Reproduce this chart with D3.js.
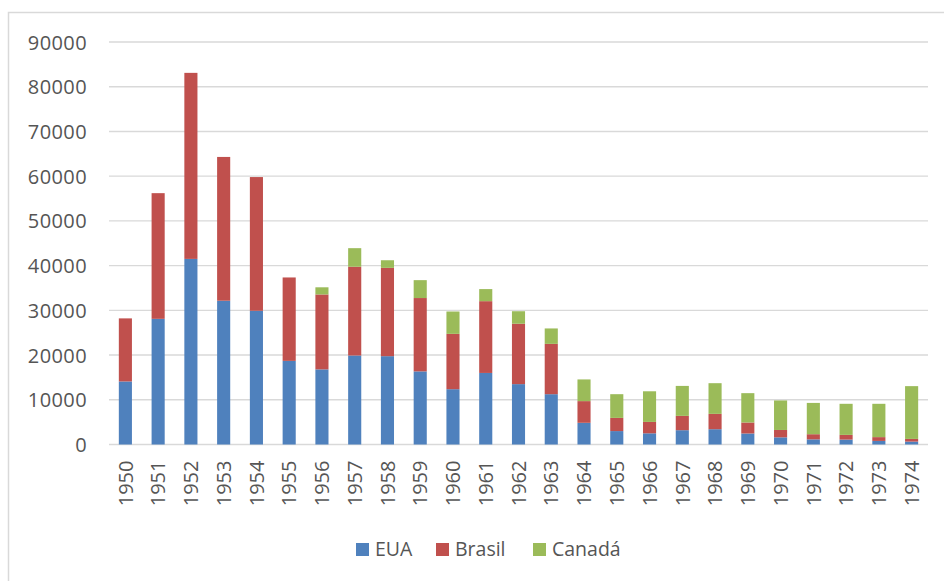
<!DOCTYPE html>
<html>
<head>
<meta charset="utf-8">
<script src="https://cdn.jsdelivr.net/npm/d3@7"></script>
<style>
  html, body { margin: 0; padding: 0; background: #fff; }
  svg { display: block; }
  text { font-family: "Open Sans", "Segoe UI", sans-serif; fill: #555555; }
</style>
</head>
<body>
<svg id="chart" width="944" height="581"></svg>
<script>
// Annual figures per country, 1950–1974
const years = ["1950","1951","1952","1953","1954","1955","1956","1957","1958","1959",
  "1960","1961","1962","1963","1964","1965","1966","1967","1968","1969",
  "1970","1971","1972","1973","1974"];
const eua = [14100, 28100, 41500, 32150, 29900, 18700, 16800, 19900, 19750, 16350,
  12370, 16000, 13500, 11250, 4850, 3000, 2500, 3200, 3420, 2460,
  1600, 1150, 1100, 800, 650];
const brasil = [14100, 28100, 41600, 32150, 29900, 18650, 16750, 19850, 19750, 16400,
  12370, 16050, 13500, 11250, 4850, 2950, 2550, 3200, 3430, 2460,
  1650, 1150, 1050, 850, 600];
const canada = [0, 0, 0, 0, 0, 0, 1600, 4150, 1700, 4000,
  5000, 2700, 2800, 3450, 4850, 5300, 6850, 6700, 6860, 6560,
  6600, 7000, 6950, 7450, 11800];
const seriesNames = ["EUA", "Brasil", "Canadá"];
const seriesColors = ["#4F81BD", "#C0504D", "#9BBB59"];
const yTicks = [0, 10000, 20000, 30000, 40000, 50000, 60000, 70000, 80000, 90000];

const svg = d3.select("#chart");

// outer chart frame
svg.append("rect")
  .attr("x", 8.5).attr("y", 12.5)
  .attr("width", 960).attr("height", 600)
  .attr("fill", "none").attr("stroke", "#D9D9D9").attr("stroke-width", 1.5);

const plot = { left: 109, right: 928, top: 42, bottom: 444.5 };

const x = d3.scaleBand().domain(years).range([plot.left, plot.right]).paddingInner(0.6).paddingOuter(0.3);
const y = d3.scaleLinear().domain([0, 90000]).range([plot.bottom, plot.top]);

// horizontal gridlines (the 0 line doubles as the category axis)
svg.append("g").selectAll("line").data(yTicks).join("line")
  .attr("x1", plot.left).attr("x2", plot.right)
  .attr("y1", d => y(d)).attr("y2", d => y(d))
  .attr("stroke", "#D9D9D9").attr("stroke-width", 1.4);

// value axis labels
const yAxis = d3.axisLeft(y).tickValues(yTicks).tickFormat(d3.format("d")).tickSize(0).tickPadding(0);
svg.append("g")
  .attr("transform", `translate(87,0)`)
  .call(yAxis)
  .call(g => g.select(".domain").remove())
  .call(g => g.selectAll("text")
    .attr("font-size", 20)
    .attr("font-family", "'Open Sans', sans-serif")
    .attr("fill", "#555555")
    .attr("letter-spacing", 0.4)
    .attr("dy", "0.35em"));

// stacked bars
const rows = years.map((yr, i) => ({ year: yr, EUA: eua[i], Brasil: brasil[i], "Canadá": canada[i] }));
const stacked = d3.stack().keys(seriesNames)(rows);

svg.append("g").selectAll("g").data(stacked).join("g")
  .attr("fill", (d, i) => seriesColors[i])
  .selectAll("rect").data(d => d).join("rect")
  .attr("x", d => x(d.data.year))
  .attr("width", x.bandwidth())
  .attr("y", d => y(d[1]))
  .attr("height", d => Math.max(0, y(d[0]) - y(d[1])));

// category labels, rotated
const xAxis = d3.axisBottom(x).tickSize(0).tickPadding(0);
svg.append("g")
  .attr("transform", `translate(0,${plot.bottom})`)
  .call(xAxis)
  .call(g => g.select(".domain").remove())
  .call(g => g.selectAll("text")
    .attr("font-size", 20)
    .attr("font-family", "'Open Sans', sans-serif")
    .attr("fill", "#555555")
    .attr("text-anchor", "end")
    .attr("transform", "translate(0,16) rotate(-90)")
    .attr("x", 0).attr("y", 0)
    .attr("dy", "0.36em"));

// legend
const legendX = [356, 436, 533];
const legend = svg.append("g");
seriesNames.forEach((name, i) => {
  legend.append("rect")
    .attr("x", legendX[i]).attr("y", 543)
    .attr("width", 13).attr("height", 13)
    .attr("fill", seriesColors[i]);
  legend.append("text")
    .attr("x", legendX[i] + 19).attr("y", 556)
    .attr("font-size", 19.5)
    .text(name);
});
</script>
</body>
</html>
